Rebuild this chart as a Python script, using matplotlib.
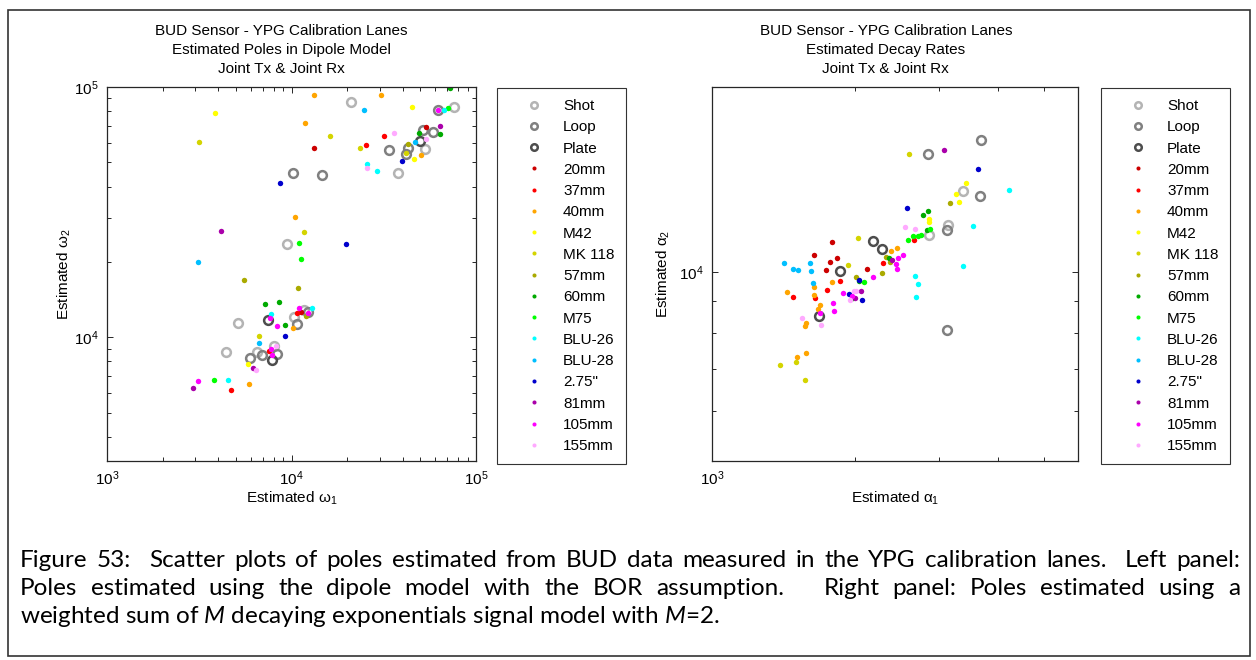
import matplotlib
matplotlib.use('Agg')
import matplotlib.pyplot as plt
import matplotlib.ticker as ticker
from matplotlib.patches import Rectangle

plt.rcParams['font.family'] = ['Liberation Sans', 'DejaVu Sans']
plt.rcParams['mathtext.fontset'] = 'custom'
plt.rcParams['mathtext.rm'] = 'Liberation Sans'
plt.rcParams['mathtext.it'] = 'Lato:italic'

# ---- categories ----
names = ['Shot', 'Loop', 'Plate', '20mm', '37mm', '40mm', 'M42', 'MK 118', '57mm',
         '60mm', 'M75', 'BLU-26', 'BLU-28', '2.75"', '81mm', '105mm', '155mm']
colors = ['#b4b4b4', '#808080', '#4d4d4d', '#cc0000', '#ff0000', '#ffa500', '#ffff00',
          '#d4d400', '#aaaa00', '#00aa00', '#00ff00', '#00ffff', '#00bfff', '#0000cc',
          '#aa00aa', '#ff00ff', '#ffaaff']

# ---- left panel: dipole model poles (omega1, omega2), one list per category ----
w1 = [
    [20900, 76200, 53100, 37800, 9420, 5110, 10350, 4430, 6470, 8070, 11690],   # Shot
    [10190, 14690, 62500, 51800, 58700, 33800, 42800, 41800, 5980, 6950, 8320, 10670, 12280],  # Loop
    [49700, 7500, 7840],                                  # Plate
    [13300, 11250, 53400],                                # 20mm
    [31800, 25300, 10750, 7550, 4680],                    # 37mm
    [13200, 30400, 11790, 10500, 50200, 10150, 5860],     # 40mm
    [3860, 44800, 45900, 5790],                           # M42
    [3160, 16100, 23400, 11730, 6690, 41900],             # MK 118
    [5530, 10840, 11990, 42800],                          # 57mm
    [72600, 49100, 63800, 7160, 8560, 9220],              # 60mm
    [70700, 11020, 11250, 3820],                          # M75
    [67100, 25600, 29200, 7710, 12840, 4540],             # BLU-26
    [24700, 46500, 3100, 6690],                           # BLU-28
    [8610, 39900, 19800, 9220],                           # 2.75"
    [64100, 4130, 6180, 2910],                            # 81mm
    [62500, 7620, 8380, 10960, 7710, 7800, 12260, 3100],  # 105mm
    [36000, 53500, 25700, 8210, 6400],                    # 155mm
]
w2 = [
    [87300, 83400, 56500, 45200, 23500, 11400, 12050, 8730, 8730, 9230, 12820],
    [45400, 44600, 80900, 67300, 66100, 56000, 56800, 54200, 8290, 8470, 8550, 11340, 12590],
    [60800, 11700, 8090],
    [56900, 12590, 69000],
    [63500, 58400, 12440, 8820, 6140],
    [92600, 93300, 71600, 30200, 53300, 10900, 6490],
    [78500, 83400, 51500, 7780],
    [60400, 63700, 57200, 26400, 10090, 54500],
    [16900, 15700, 12130, 59200],
    [99500, 65300, 64900, 13520, 13800, 11170],
    [82800, 23800, 20500, 6770],
    [81100, 49200, 46100, 12360, 13030, 6730],
    [81100, 60500, 20000, 9490],
    [41200, 50800, 23500, 10070],
    [70000, 26600, 7540, 6270],
    [80900, 11940, 11100, 13030, 9010, 8470, 12530, 6680],
    [65300, 61900, 47600, 9230, 7360],
]

# ---- right panel: decay rates (alpha1, alpha2) ----
a1 = [
    [3370, 3140, 2870],
    [3690, 2850, 3660, 3130, 3120],
    [2180, 2280, 1860, 1680],
    [1790, 1640, 1830, 1770, 1740, 2120],
    [2660, 2290, 1860, 1750, 1480, 1650],
    [2450, 2380, 1790, 1640, 1440, 1640, 1690, 1670, 1580, 1570, 1580, 1510],
    [2870, 3430, 3270, 3320, 2870],
    [2600, 2030, 1930, 1500, 1390, 1570],
    [3170, 2320, 2370, 2280, 2010],
    [2780, 2850, 2830, 2360, 2040, 1980],
    [2590, 2650, 2720, 2760, 2880, 2090],
    [4230, 3540, 3370, 2680, 2720, 2690],
    [1420, 1480, 1520, 1610, 1620, 1630],
    [3640, 2580, 2040, 1940, 2070],
    [3080, 2390, 2060, 2000],
    [2520, 2460, 2440, 2450, 2180, 1890, 1970, 1800, 1810, 1690],
    [2550, 2670, 1990, 2010, 1950, 1550, 1700],
]
a2 = [
    [13460, 11860, 11450],
    [16200, 15410, 13190, 11660, 8070],
    [11210, 10860, 10050, 8520],
    [11150, 10640, 10510, 10370, 10060, 10120],
    [11240, 10330, 9680, 9360, 9110, 9100],
    [10930, 10810, 9630, 9450, 9290, 9190, 8860, 8720, 8300, 8190, 7430, 7320],
    [11990, 13830, 13310, 12930, 12140],
    [15410, 11340, 10270, 7200, 7120, 6740],
    [12870, 10550, 10380, 9950, 9820],
    [12330, 12500, 11650, 10510, 9660, 9100],
    [11240, 11410, 11410, 11450, 11700, 9630],
    [13500, 11820, 10230, 9840, 9550, 9110],
    [10320, 10120, 10080, 10350, 10040, 9600],
    [14570, 12620, 9710, 9210, 9030],
    [15660, 10440, 9330, 9080],
    [10650, 10510, 10300, 10120, 9820, 9260, 9150, 8910, 8670, 8600],
    [11790, 11710, 9320, 9330, 9020, 8450, 8220],
]

caption = [
    'Figure 53:  Scatter plots of poles estimated from BUD data measured in the YPG calibration lanes.  Left panel:',
    'Poles estimated using the dipole model with the BOR assumption.   Right panel: Poles estimated using a',
    'weighted sum of $M$ decaying exponentials signal model with $M$=2.',
]

W, H = 1256, 660
fig = plt.figure(figsize=(W / 100, H / 100), dpi=100)
axc = '#262626'


def panel(rect, xs, ys, xlim, ylim, title, tx, xlab, ylab, ypad, leg_left):
    ax = fig.add_axes(rect)
    for i, name in enumerate(names):
        if i < 3:
            ax.plot(xs[i], ys[i], 'o', mfc='none', mec=colors[i], ms=6.3, mew=1.8,
                    ls='none', label=name)
    for i, name in enumerate(names):
        if i >= 3:
            ax.plot(xs[i], ys[i], 'o', color=colors[i], ms=3.9, mew=0,
                    ls='none', label=name)
    ax.set_xscale('log')
    ax.set_yscale('log')
    ax.set_xlim(xlim)
    ax.set_ylim(ylim)
    ax.xaxis.set_minor_formatter(ticker.NullFormatter())
    ax.yaxis.set_minor_formatter(ticker.NullFormatter())
    ax.tick_params(which='both', direction='in', top=True, right=True, color=axc,
                   labelsize=11, width=0.7)
    ax.tick_params(which='major', length=4, pad=6)
    ax.tick_params(which='minor', length=3)
    for s in ax.spines.values():
        s.set_color(axc)
        s.set_linewidth(0.9)
    ax.set_title(title, fontsize=11, x=tx, pad=10, linespacing=1.45)
    ax.set_xlabel(xlab, fontsize=11, labelpad=1.5)
    ax.set_ylabel(ylab, fontsize=11, labelpad=ypad)
    ax.legend(loc='upper left', bbox_to_anchor=(leg_left / W, 1 - 88 / H),
              bbox_transform=fig.transFigure, borderaxespad=0, fontsize=11,
              frameon=True, fancybox=False, edgecolor='#333333', framealpha=1,
              borderpad=0.72, labelspacing=0.475, handlelength=3.4,
              handletextpad=0.2, markerscale=0.75).get_frame().set_linewidth(0.8)
    return ax


panel([107 / W, 1 - 461 / H, 369 / W, 374 / H], w1, w2, (1e3, 1e5), (3200, 1e5),
      'BUD Sensor - YPG Calibration Lanes\nEstimated Poles in Dipole Model\nJoint Tx & Joint Rx',
      0.4715, 'Estimated ω$_1$', 'Estimated ω$_2$', 0.5, 497)
panel([712 / W, 1 - 461 / H, 366 / W, 374 / H], a1, a2, (1e3, 5900), (5000, 19700),
      'BUD Sensor - YPG Calibration Lanes\nEstimated Decay Rates\nJoint Tx & Joint Rx',
      0.475, 'Estimated α$_1$', 'Estimated α$_2$', 5, 1101)

# outer frame
fig.add_artist(Rectangle((8 / W, 1 - 656 / H), 1242 / W, 646 / H, transform=fig.transFigure,
                         fill=False, edgecolor='#333333', linewidth=1.2))

# caption, first two lines justified
fig.canvas.draw()
rend = fig.canvas.get_renderer()
x0, x1 = 20 / W, 1240 / W
ybase = [567, 595, 623]
capsize = 17.5
for k, line in enumerate(caption):
    y = 1 - ybase[k] / H
    if k == 2:
        fig.text(x0, y, line, fontsize=capsize, family='Lato', va='baseline', color='black')
        continue
    words = line.split(' ')
    arts = [fig.text(0, y, wd, fontsize=capsize, family='Lato', va='baseline', color='black')
            for wd in words]
    widths = [a.get_window_extent(rend).width / W if wd else 0 for a, wd in zip(arts, words)]
    gap = (x1 - x0 - sum(widths)) / (len(words) - 1)
    x = x0
    for a, wdt in zip(arts, widths):
        a.set_x(x)
        x += wdt + gap

fig.savefig('out.png', dpi=100)
